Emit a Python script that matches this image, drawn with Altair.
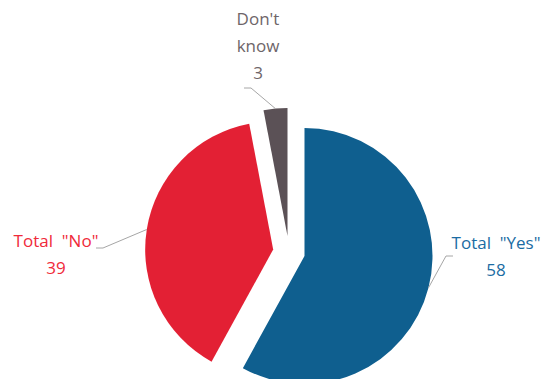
import altair as alt
import pandas as pd

# ---- data ----
categories = ["Total\u00a0 \"Yes\"", "Total\u00a0 \"No\"", "Don't\nknow"]
values = [58, 39, 3]

# ---- styles / layout ----
slice_colors = ["#0F5F8F", "#E32034", "#5B5156"]
text_colors = ["#1B6CA3", "#F02A3A", "#6E6569"]
CX, CY = 281, 244        # pie centre (px, chart coords)
R = 128                  # pie radius
EXPLODE = 16             # explosion distance
# label first-line centre and leader elbow, as offsets from the pie centre
label_dx = [207, -233, -31]
label_dy = [-8, -10, -232]
elbow_dx = [157, -186, -38]
elbow_dy = [4, -4, -164]
HOOK = 7

df = pd.DataFrame({
    "order": list(range(len(values))),
    "name": categories,
    "value": values,
    "label": [f"{c}\n{v}" for c, v in zip(categories, values)],
    "fill": slice_colors,
    "tcolor": text_colors,
    "ldx": label_dx, "ldy": label_dy,
    "edx": elbow_dx, "edy": elbow_dy,
})

base = alt.Chart(df).transform_joinaggregate(
    total="sum(value)"
).transform_window(
    cum="sum(value)", sort=[alt.SortField("order")], frame=[None, 0]
).transform_calculate(
    start="(datum.cum - datum.value) / datum.total * 2 * PI",
    end="datum.cum / datum.total * 2 * PI",
).transform_calculate(
    mid="(datum.start + datum.end) / 2",
).transform_calculate(
    cx=f"{CX} + {EXPLODE} * sin(datum.mid)",
    cy=f"{CY} - {EXPLODE} * cos(datum.mid)",
    ex=f"{CX} + datum.edx",
    ey=f"{CY} + datum.edy",
    lx=f"{CX} + datum.ldx",
    ly=f"{CY} + datum.ldy",
).transform_calculate(
    ax=f"datum.cx + {R} * sin(datum.mid)",
    ay=f"datum.cy - {R} * cos(datum.mid)",
    hx=f"datum.ex + (sin(datum.mid) > 0 ? {HOOK} : -{HOOK})",
)

arcs = base.mark_arc(outerRadius=R, innerRadius=0).encode(
    theta=alt.Theta("start:Q", scale=None, stack=None),
    theta2="end:Q",
    x=alt.X("cx:Q", scale=None),
    y=alt.Y("cy:Q", scale=None),
    color=alt.Color("fill:N", scale=None),
)

lead1 = base.mark_rule(color="#A6A6A6", strokeWidth=1).encode(
    x=alt.X("ax:Q", scale=None), y=alt.Y("ay:Q", scale=None),
    x2="ex:Q", y2="ey:Q",
)
lead2 = base.mark_rule(color="#A6A6A6", strokeWidth=1).encode(
    x=alt.X("ex:Q", scale=None), y=alt.Y("ey:Q", scale=None),
    x2="hx:Q", y2="ey:Q",
)

labels = base.mark_text(
    font="Open Sans", fontSize=17, lineBreak="\n", lineHeight=27,
    align="center", baseline="middle",
).encode(
    x=alt.X("lx:Q", scale=None), y=alt.Y("ly:Q", scale=None),
    text="label:N",
    color=alt.Color("tcolor:N", scale=None),
)

chart = alt.layer(arcs, lead1, lead2, labels).properties(
    width=533, height=371, padding=0,
    autosize=alt.AutoSizeParams(type="none"),
).configure_view(stroke=None)

chart.save("out.html", embed_options={"renderer": "svg", "actions": False})
